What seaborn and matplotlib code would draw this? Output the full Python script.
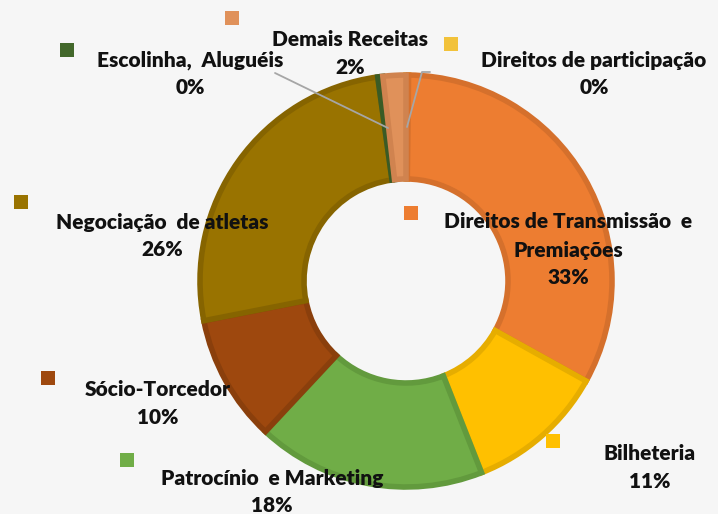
import matplotlib.pyplot as plt
import seaborn as sns

# categorias na ordem horária a partir das 12h
categorias = ['Direitos de participação', 'Direitos de Transmissão  e\nPremiações',
              'Bilheteria', 'Patrocínio  e Marketing', 'Sócio-Torcedor',
              'Negociação  de atletas', 'Escolinha,  Aluguéis', 'Demais Receitas']
valores = [0.2, 33, 11, 18, 10, 26, 0.4, 1.8]
rotulos = ['0%', '33%', '11%', '18%', '10%', '26%', '0%', '2%']

cores = ['#F2C23A', '#ED7D31', '#FFC000', '#70AD47', '#9E480E', '#997300', '#43682B', '#E0915A']
bordas = ['#E0AE20', '#D5702C', '#E6AD00', '#629A3D', '#8A3F0C', '#866400', '#3A5B25', '#D0834F']

sns.set_theme(style='white')
plt.rcParams['font.family'] = ['Lato', 'DejaVu Sans']

W, H = 718, 514
fig = plt.figure(figsize=(W / 100, H / 100), dpi=100)
fig.patch.set_facecolor('#F6F6F6')
ax = fig.add_axes([0, 0, 1, 1])
ax.set_facecolor('#F6F6F6')

cx, cy, r = 406, H - 281, 206
wedges, _ = ax.pie(valores, startangle=90, counterclock=False, center=(cx, cy),
                   radius=r, frame=False,
                   wedgeprops=dict(width=104, linewidth=4))
for w, c, b in zip(wedges, cores, bordas):
    w.set_facecolor(c)
    w.set_edgecolor(b)
    w.set_joinstyle('miter')

ax.set_xlim(0, W)
ax.set_ylim(0, H)
ax.set_aspect('equal')
ax.axis('off')

# centro da primeira linha do rótulo e do quadrado (px a partir do topo)
pos_texto = [(594, 60), (568, 222), (650, 453), (272, 478), (158, 390),
             (162, 222), (190, 60), (350, 40)]
pos_quad = [(451, 44), (411, 213), (553, 441), (127, 460), (48, 378),
            (21, 202), (67, 50), (232, 18)]

for cat, rot, (tx, ty), (qx, qy), c in zip(categorias, rotulos, pos_texto, pos_quad, cores):
    linhas = cat.split('\n') + [rot]
    for i, lin in enumerate(linhas):
        ax.text(tx, H - ty - 28 * i, lin, ha='center', va='center', fontsize=15,
                fontweight='heavy', color='#111111')
    ax.scatter([qx], [H - qy], marker='s', s=110, color=c, edgecolors='none', zorder=5)

# linhas de chamada
ax.plot([275, 388], [H - 73, H - 128], color='#A6A6A6', lw=1.3, zorder=6)
ax.plot([430, 422, 407], [H - 72, H - 72, H - 127], color='#A6A6A6', lw=1.3, zorder=6)

fig.savefig('out.png', dpi=100, facecolor=fig.get_facecolor())
